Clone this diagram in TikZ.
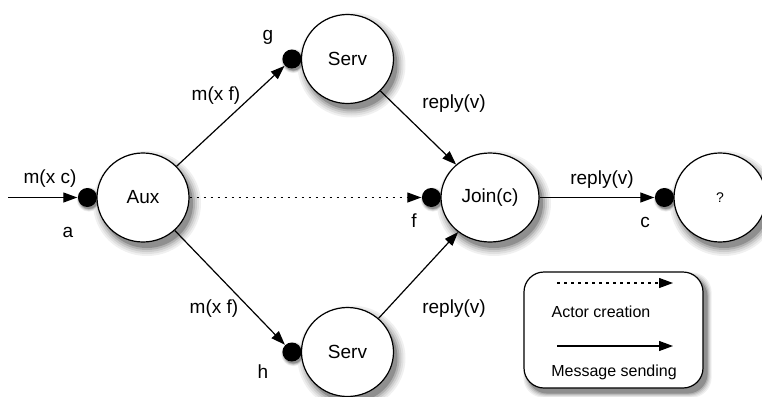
\documentclass[tikz,border=0pt]{standalone}
\usepackage{fontspec}
\setmainfont{Liberation Sans}
\usetikzlibrary{arrows.meta}
\usetikzlibrary{shapes.geometric}
\usetikzlibrary{backgrounds}

\begin{document}
\begin{tikzpicture}[x=1pt, y=-1pt,
                    >={Triangle[length=14pt,width=10pt]},
                    line width=1.2pt,
                    actor/.style={ellipse, draw, fill=white, inner sep=0pt,
                                  minimum width=92pt, minimum height=89pt,
                                  font=\fontsize{19}{22}\selectfont},
                    port/.style={circle, fill=black, minimum size=19pt, inner sep=0pt},
                    lbl/.style={inner sep=0pt, font=\fontsize{19}{22}\selectfont},
                    keytext/.style={inner sep=0pt, font=\fontsize{16}{19}\selectfont},
                    creation/.style={dash pattern=on 2.5pt off 4.5pt}
                    ]
  \useasboundingbox (0,0) rectangle (762,396);

  % actors
  \node[actor] (aux)   at (143,197.5) {Aux};
  \node[actor] (serv1) at (347.5,59)  {Serv};
  \node[actor] (serv2) at (347.5,352) {Serv};
  \node[actor, minimum width=98pt] (join) at (490,197.5) {Join(c)};
  \node[actor, font=\fontsize{14}{16}\selectfont] (q) at (720,197.5) {?};

  % mail addresses
  \node[port] (a) at ([xshift=-9pt]aux.west)   {};
  \node[port] (g) at ([xshift=-9pt]serv1.west) {};
  \node[port] (h) at ([xshift=-9pt]serv2.west) {};
  \node[port] (f) at ([xshift=-9pt]join.west)  {};
  \node[port] (c) at ([xshift=-9pt]q.west)     {};

  \node[lbl] (la) at (68,232)  {a};
  \node[lbl] (lg) at (268,37)  {g};
  \node[lbl] (lh) at (263,372) {h};
  \node[lbl] (lf) at (414,221) {f};
  \node[lbl] (lc) at (645,222) {c};

  % messages
  \coordinate (in) at (8,197.5);
  \draw [->] (in) -- (a);
  \draw [->] (aux) -- (g);
  \draw [->] (aux) -- (h);
  \draw [->, creation] (aux) -- (f);
  \draw [->] (serv1) -- (join);
  \draw [->] (serv2) -- (join);
  \draw [->] (join) -- (c);

  \node[lbl] (m1) at (50,179)   {m(x c)};
  \node[lbl] (m2) at (216,96)   {m(x f)};
  \node[lbl] (m3) at (214,309)  {m(x f)};
  \node[lbl] (r1) at (454,104)  {reply(v)};
  \node[lbl] (r2) at (454,309)  {reply(v)};
  \node[lbl] (r3) at (602,180)  {reply(v)};

  % key
  \node[draw, fill=white, rounded corners=20pt, minimum width=179pt, minimum height=116pt] (key) at (613.5,330) {};
  \coordinate (k1) at (557,283);
  \coordinate (k2) at (673,283);
  \coordinate (k3) at (557,346);
  \coordinate (k4) at (673,346);
  \draw [->, creation] (k1) -- (k2);
  \draw [->] (k3) -- (k4);
  \node[keytext] (kc) at (601,312) {Actor creation};
  \node[keytext] (km) at (614,372) {Message sending};

  % soft shadows
  \begin{scope}[on background layer]
    \foreach \s/\c in {8/6,6/12,4/20,2/30,0/44} {
      \foreach \n/\rx in {aux/46,serv1/46,serv2/46,join/49,q/46}
        \fill[black!\c] ([shift={(4pt,-6pt)}]\n.center) ellipse [x radius=\rx+\s, y radius=44.5+\s];
      \foreach \n in {a,g,h,f,c}
        \fill[black!\c] ([shift={(1.5pt,-2pt)}]\n.center) circle [radius=9.5+\s/3];
      \fill[black!\c, rounded corners=20pt]
        ([shift={(4pt-\s/2*1pt,-5pt-\s/2*1pt)}]key.south west) rectangle ([shift={(4pt+\s/2*1pt,-5pt+\s/2*1pt)}]key.north east);
    }
  \end{scope}
\end{tikzpicture}
\end{document}
